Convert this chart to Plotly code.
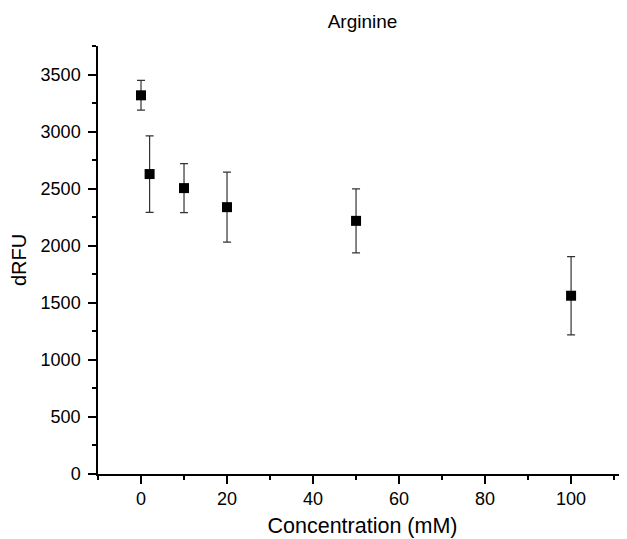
import plotly.graph_objects as go

conc = [0, 2, 10, 20, 50, 100]
drfu = [3318, 2628, 2505, 2338, 2218, 1562]
err = [130, 335, 215, 307, 280, 343]

fig = go.Figure()
fig.add_trace(go.Scatter(
    x=conc, y=drfu, mode="markers",
    marker=dict(symbol="square", size=10, color="black"),
    error_y=dict(type="data", array=err, visible=True, color="#333333", thickness=1.2, width=4),
    showlegend=False,
))

font = "Liberation Sans, Arial, sans-serif"
fig.update_layout(
    width=619, height=531,
    paper_bgcolor="white", plot_bgcolor="white",
    margin=dict(l=90, r=0, t=38, b=65),
    title=dict(text="Arginine", x=0.5, xanchor="center", xref="paper",
               y=1 - 7 / 531, yanchor="top",
               font=dict(family=font, size=19, color="black")),
    font=dict(family=font, color="black"),
)
fig.update_xaxes(
    range=[-10, 113], dtick=20, tick0=0,
    showgrid=False, zeroline=False,
    showline=True, linecolor="black", linewidth=1.5,
    ticks="outside", ticklen=8, tickwidth=1.5, tickcolor="black",
    minor=dict(ticks="outside", dtick=10, tick0=0, ticklen=4, tickwidth=1.5, tickcolor="black"),
    tickfont=dict(size=18, family=font),
    title=dict(text="Concentration (mM)", font=dict(size=21.5, family=font), standoff=10),
)
fig.update_yaxes(
    range=[0, 3750], dtick=500, tick0=0,
    showgrid=False, zeroline=False,
    showline=True, linecolor="black", linewidth=1.5,
    ticks="outside", ticklen=8, tickwidth=1.5, tickcolor="black",
    ticklabelstandoff=4,
    minor=dict(ticks="outside", dtick=250, tick0=0, ticklen=4, tickwidth=1.5, tickcolor="black"),
    tickfont=dict(size=18, family=font),
    title=dict(text="dRFU", font=dict(size=20, family=font), standoff=10),
)
fig.write_html("out.html", post_script="document.body.style.overflow='hidden';")
